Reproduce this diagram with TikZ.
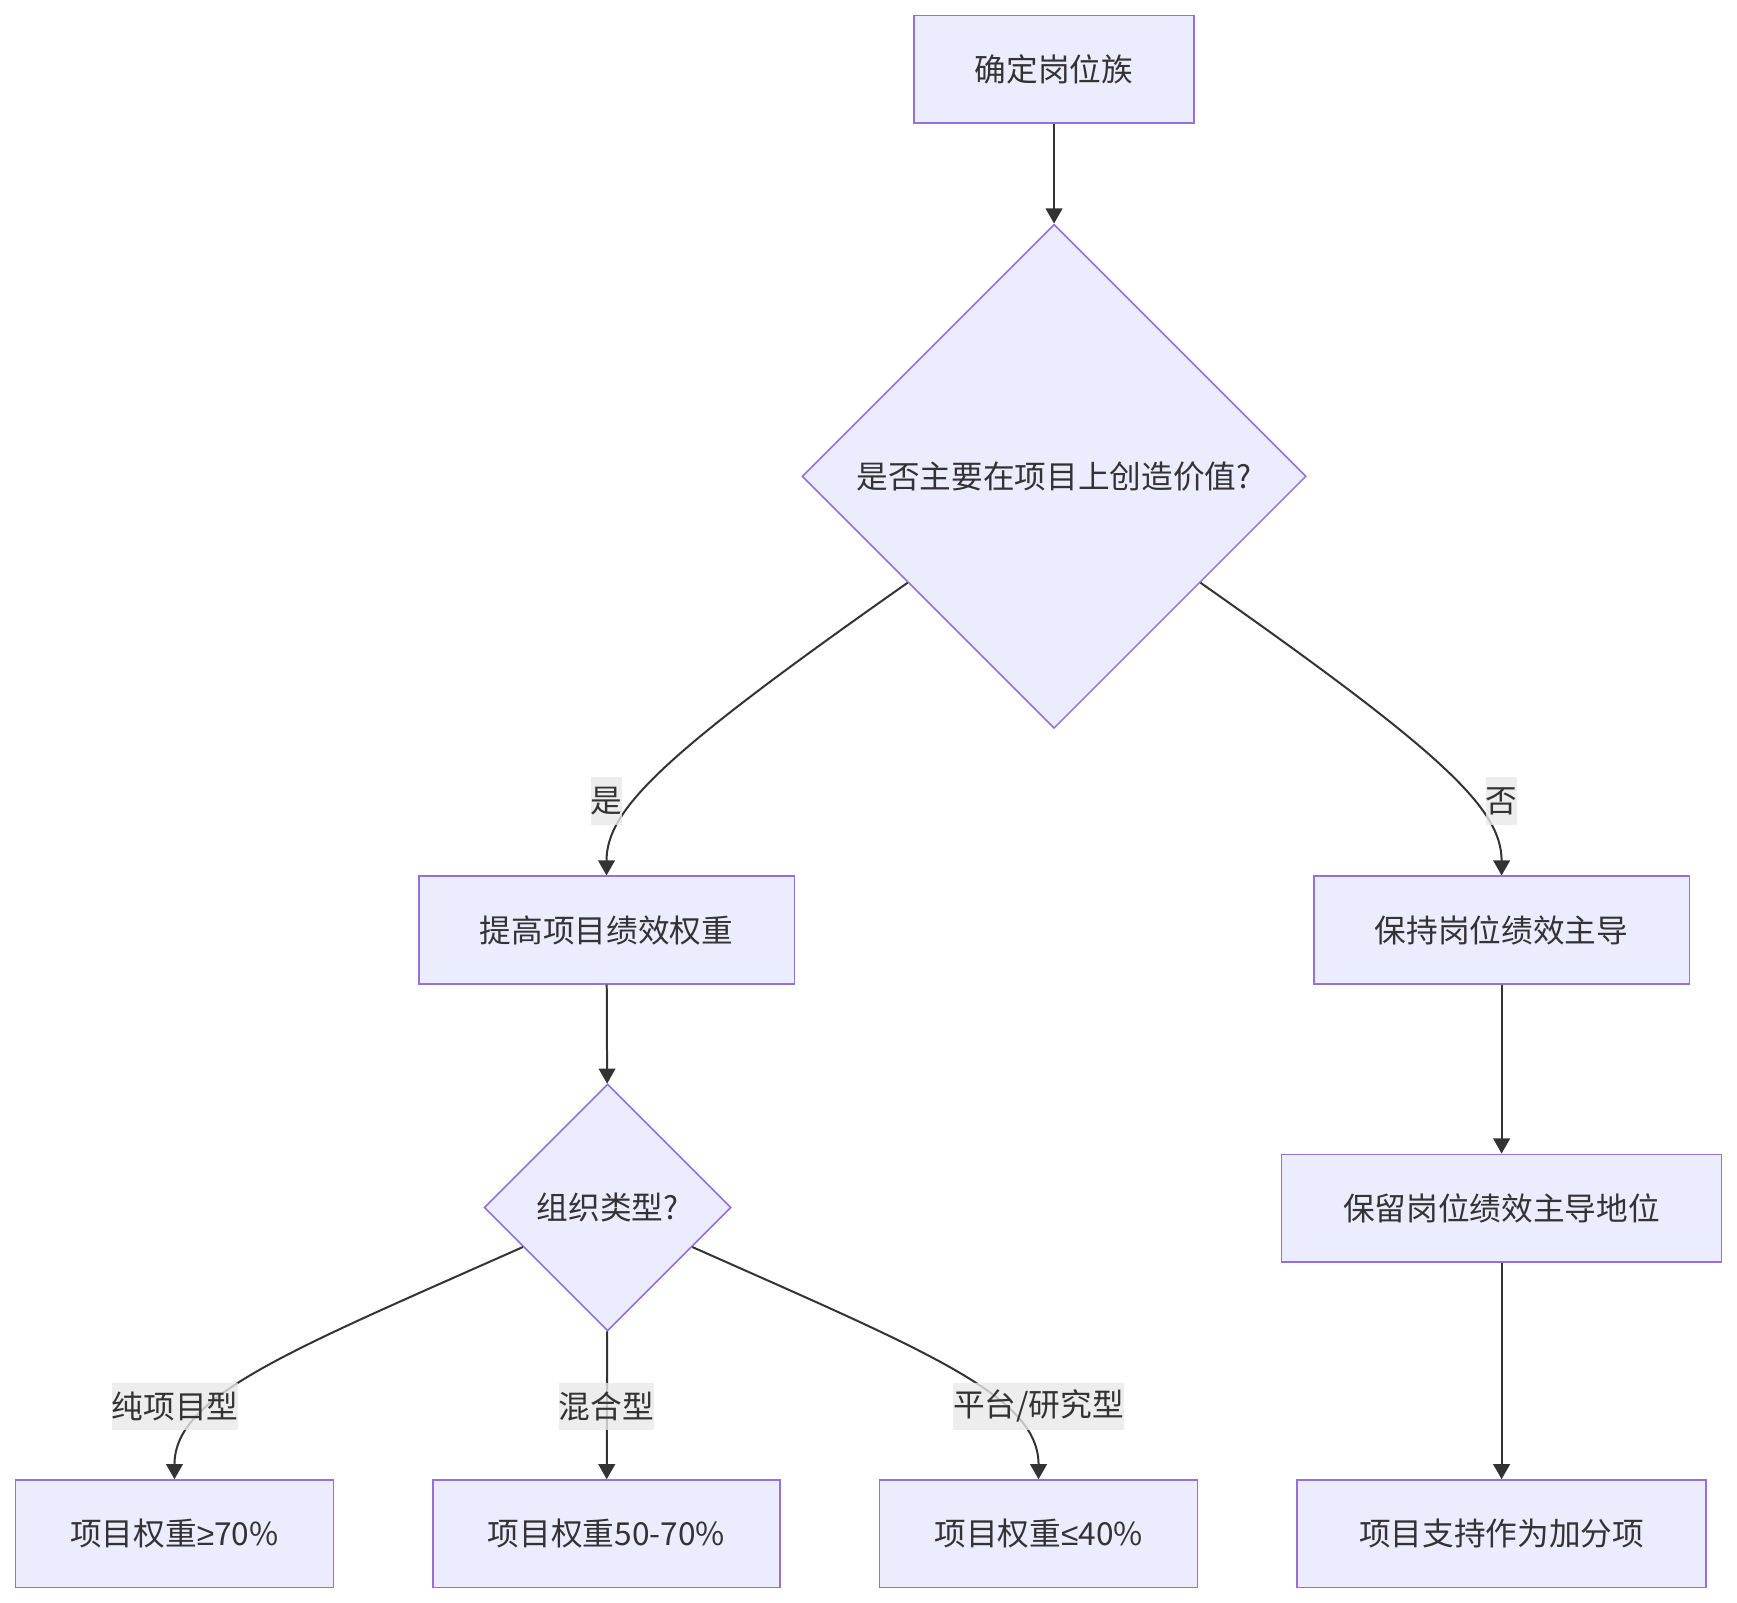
\documentclass[tikz,border=0pt]{standalone}
\usepackage{fontspec}
\setmainfont{Noto Sans CJK SC}
\newfontfamily\symfont{Liberation Sans}
\usetikzlibrary{arrows.meta,positioning,shapes.geometric}
\definecolor{boxfill}{HTML}{ECECFF}
\definecolor{boxline}{HTML}{9370DB}
\definecolor{edgecol}{HTML}{333333}
\definecolor{lblfill}{HTML}{E8E8E8}

\begin{document}
\begin{tikzpicture}[x=0.5pt, y=-0.5pt,
    font=\fontsize{14.3}{17}\selectfont, text=edgecol,
    box/.style={draw=boxline, fill=boxfill, line width=0.7pt, minimum height=48.5pt, inner xsep=8pt},
    decision/.style={diamond, draw=boxline, fill=boxfill, line width=0.7pt, inner sep=0pt},
    edge/.style={draw=edgecol, line width=0.9pt, -{Triangle[length=6.8pt, width=7.5pt]}},
    lbl/.style={fill=lblfill, fill opacity=0.8, text opacity=1, inner sep=0pt, minimum height=21.5pt}]
    \useasboundingbox (0,0) rectangle (1568,1447);

    % Top and first decision
    \node[box, minimum width=126.5pt] (family) at (951.5,62.5) {确定岗位族};
    \node[decision, minimum width=227.5pt, minimum height=227.5pt] (project) at (951.5,430) {是否主要在项目上创造价值?};

    % Left branch
    \node[box, minimum width=169.5pt] (raise) at (547.5,839.5) {提高项目绩效权重};
    \node[decision, minimum width=111.5pt, minimum height=111.5pt] (orgtype) at (548.5,1090) {组织类型?};
    \node[box, minimum width=143.5pt] (pure) at (157.5,1384.5) {项目权重{\symfont ≥}70\%};
    \node[box, minimum width=156.5pt] (mixed) at (547.5,1384.5) {项目权重50-70\%};
    \node[box, minimum width=143.5pt] (platform) at (937.5,1384.5) {项目权重{\symfont ≤}40\%};

    % Right branch
    \node[box, minimum width=169.5pt] (keep) at (1355.5,839.5) {保持岗位绩效主导};
    \node[box, minimum width=198.5pt] (retain) at (1355.5,1090.5) {保留岗位绩效主导地位};
    \node[box, minimum width=184.5pt] (bonus) at (1355.5,1384.5) {项目支持作为加分项};

    % Connectors
    \draw[edge] (family) -- (project);
    \draw[edge] (project.216) .. controls (600,680) and (547.5,730) .. (raise.north);
    \draw[edge] (project.324) .. controls (1303,680) and (1355.5,730) .. (keep.north);
    \draw[edge] (raise) -- (orgtype);
    \draw[edge] (orgtype.205) .. controls (260,1220) and (157.5,1260) .. (pure.north);
    \draw[edge] (orgtype) -- (mixed);
    \draw[edge] (orgtype.335) .. controls (837,1220) and (937.5,1260) .. (platform.north);
    \draw[edge] (keep) -- (retain);
    \draw[edge] (retain) -- (bonus);

    % Edge labels
    \node[lbl] (yes) at (547.5,723) {是};
    \node[lbl] (no) at (1355.5,723) {否};
    \node[lbl] (lpure) at (158,1269.5) {纯项目型};
    \node[lbl] (lmixed) at (547.5,1269.5) {混合型};
    \node[lbl] (lplatform) at (937.5,1269.5) {平台/研究型};
\end{tikzpicture}
\end{document}
